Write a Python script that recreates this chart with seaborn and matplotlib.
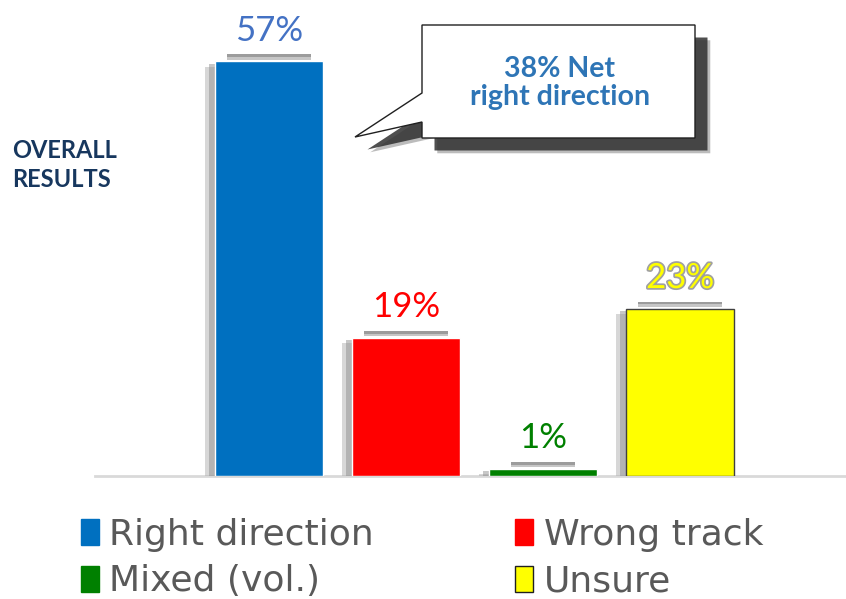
import seaborn as sns
import matplotlib.pyplot as plt
import matplotlib.patheffects as pe
from matplotlib.patches import Patch, Polygon
import pandas as pd

categories = ['Right direction', 'Wrong track', 'Mixed (vol.)', 'Unsure']
values = [57, 19, 1, 23]
labels = ['57%', '19%', '1%', '23%']
bar_colors = ['#0070C0', '#FF0000', '#008000', '#FFFF00']
label_colors = ['#4472C4', '#FF0000', '#008000', '#FFFF00']
callout_text = '38% Net\nright direction'

df = pd.DataFrame({'category': categories, 'value': values})

sns.set_style('white')
plt.rcParams['font.family'] = ['Lato', 'DejaVu Sans']

fig = plt.figure(figsize=(8.46, 5.99), dpi=100)
ax = fig.add_axes([95 / 846, 123 / 599, 751 / 846, 476 / 599])

sns.barplot(data=df, x='category', y='value', hue='category', palette=bar_colors,
            order=categories, hue_order=categories, width=0.79, legend=False,
            saturation=1, ax=ax)

# soft-ish shadow to the left of each bar
bar_shadow = [pe.SimplePatchShadow(offset=(-7, -4), shadow_rgbFace='#B0B0B0', alpha=0.5),
              pe.SimplePatchShadow(offset=(-4, -2), shadow_rgbFace='#909090', alpha=0.5),
              pe.Normal()]
for i, p in enumerate(ax.patches):
    p.set_path_effects(bar_shadow)
    p.set_zorder(3)
    if categories[i] == 'Unsure':
        p.set_edgecolor('#404040')
        p.set_linewidth(1)

ax.set_xlim(-1.27, 4.21)
ax.set_ylim(0, 65.4)
ax.set_xlabel('')
ax.set_ylabel('')
ax.set_xticks([])
ax.set_yticks([])
for s in ['top', 'right', 'left']:
    ax.spines[s].set_visible(False)
ax.spines['bottom'].set_color('#D9D9D9')
ax.spines['bottom'].set_linewidth(2)

# value labels in white boxes
for i, (v, lab) in enumerate(zip(values, labels)):
    t = ax.annotate(lab, (i, v), xytext=(0, 22), textcoords='offset points',
                    ha='center', va='center', fontsize=25, color=label_colors[i],
                    bbox=dict(boxstyle='square,pad=0.22', fc='white', ec='none'),
                    zorder=5)
    if categories[i] == 'Unsure':
        t.set_path_effects([pe.Stroke(linewidth=2.5, foreground='#A0A0A0'), pe.Normal()])
    t.get_bbox_patch().set_path_effects(
        [pe.SimplePatchShadow(offset=(0, -4), shadow_rgbFace='#A0A0A0', alpha=0.6),
         pe.SimplePatchShadow(offset=(0, -2), shadow_rgbFace='#808080', alpha=0.6),
         pe.Normal()])

# callout
pts = [(422, 25), (695, 25), (695, 138), (422, 138), (422, 122), (355, 137), (422, 93)]
pts = [(x / 846, 1 - y / 599) for x, y in pts]
callout = Polygon(pts, closed=True, transform=fig.transFigure, fc='white', ec='#202020',
                  lw=1, zorder=10)
callout.set_path_effects([pe.SimplePatchShadow(offset=(11, -11), shadow_rgbFace='#909090',
                                               alpha=0.6),
                          pe.SimplePatchShadow(offset=(9, -9), shadow_rgbFace='#303030',
                                               alpha=0.85), pe.Normal()])
fig.patches.append(callout)
fig.text(560 / 846, 1 - 83 / 599, callout_text, ha='center', va='center', fontsize=20.5,
         fontweight='bold', color='#2E75B6', linespacing=1.1, zorder=11)

fig.text(12 / 846, 1 - 165 / 599, 'OVERALL\nRESULTS', ha='left', va='center',
         fontsize=17, fontweight='bold', color='#17375E', linespacing=1.3)

handles = [Patch(facecolor=c, edgecolor='#202020' if n == 'Unsure' else c, lw=1)
           for c, n in zip(bar_colors, categories)]
order = [0, 2, 1, 3]
leg = fig.legend([handles[i] for i in order], [categories[i] for i in order], ncol=2,
                 loc='center left', bbox_to_anchor=(48 / 846, 1 - 558 / 599),
                 frameon=False, handlelength=0.5, handleheight=0.75, handletextpad=0.3,
                 columnspacing=3.9, labelspacing=0.35,
                 prop={'family': ['DejaVu Sans'], 'size': 26})
for txt in leg.get_texts():
    txt.set_color('#595959')

fig.savefig('out.png', dpi=100)
